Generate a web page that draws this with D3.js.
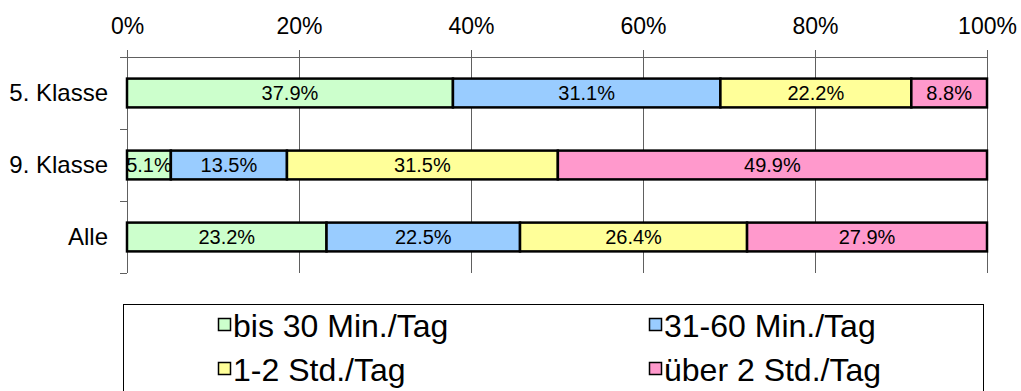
<!DOCTYPE html>
<html>
<head>
<meta charset="utf-8">
<title>Mediennutzung pro Tag</title>
<style>
body { margin: 0; background: #fff; }
text {
    font-family: "Liberation Sans", Arial, sans-serif;
    fill: #000;
}
.grid line {
    stroke: #606060;
    shape-rendering: crispEdges;
}
.axis path, .axis line {
    stroke: #606060;
    shape-rendering: crispEdges;
}
.bars rect {
    stroke: #000;
    stroke-width: 2.5;
}
</style>
</head>
<body>
<div id="chart"></div>
<script src="https://cdn.jsdelivr.net/npm/d3@7"></script>
<script>
    var categories = ["5. Klasse", "9. Klasse", "Alle"];
    var seriesNames = ["bis 30 Min./Tag", "31-60 Min./Tag", "1-2 Std./Tag", "über 2 Std./Tag"];
    var seriesColors = ["#CCFFCC", "#99CCFF", "#FFFF99", "#FF99CC"];
    // percentages per category, one list per series
    var bis30   = [37.9, 5.1, 23.2];
    var min3160 = [31.1, 13.5, 22.5];
    var std12   = [22.2, 31.5, 26.4];
    var ueber2  = [8.8, 49.9, 27.9];
    var xTicks = [0, 20, 40, 60, 80, 100];

    var dimensions = { width: 1021, height: 391 };
    var plot = { left: 127, right: 987, top: 57, bottom: 273 };

    var values = [bis30, min3160, std12, ueber2];
    var rows = categories.map(function(c, i) {
        var r = { cat: c };
        seriesNames.forEach(function(s, j) { r[s] = values[j][i]; });
        return r;
    });
    var stacked = d3.stack().keys(seriesNames)(rows);

    var x = d3.scaleLinear().domain([0, 100]).range([plot.left, plot.right]);
    var y = d3.scaleBand().domain(categories).range([plot.top, plot.bottom])
        .paddingInner(0.6).paddingOuter(0.3);
    var color = d3.scaleOrdinal().domain(seriesNames).range(seriesColors);

    var svg = d3.select("#chart").append("svg")
        .attr("width", dimensions.width)
        .attr("height", dimensions.height);

    // vertical gridlines (extend above the top axis as ticks)
    svg.append("g").attr("class", "grid")
        .selectAll("line").data(xTicks).enter().append("line")
        .attr("x1", function(d) { return Math.round(x(d)) + 0.5; })
        .attr("x2", function(d) { return Math.round(x(d)) + 0.5; })
        .attr("y1", plot.top - 7)
        .attr("y2", plot.bottom);

    // top axis
    var xaxis = d3.axisTop(x).tickValues(xTicks)
        .tickFormat(function(d) { return d + "%"; })
        .tickSize(0).tickPadding(22);
    var gx = svg.append("g").attr("class", "axis")
        .attr("transform", "translate(0," + plot.top + ")")
        .call(xaxis);
    gx.select(".domain").attr("d", "M" + (plot.left - 7) + ",0.5H" + plot.right);
    gx.selectAll("text").style("font-size", "23px").attr("dy", "0.35em").attr("y", -31);

    // left axis with ticks at the band boundaries
    var bounds = [0, 1, 2, 3].map(function(i) {
        return plot.top + i * (plot.bottom - plot.top) / categories.length;
    });
    var gy = svg.append("g").attr("class", "axis");
    gy.append("line")
        .attr("x1", plot.left + 0.5).attr("x2", plot.left + 0.5)
        .attr("y1", plot.top).attr("y2", plot.bottom);
    gy.selectAll("line.tick").data(bounds.slice(1)).enter().append("line")
        .attr("class", "tick")
        .attr("x1", plot.left - 7).attr("x2", plot.left)
        .attr("y1", function(d) { return Math.round(d) + 0.5; })
        .attr("y2", function(d) { return Math.round(d) + 0.5; });
    svg.append("g").selectAll("text").data(categories).enter().append("text")
        .attr("x", 108)
        .attr("y", function(d) { return y(d) + y.bandwidth() / 2; })
        .attr("dy", "0.35em")
        .attr("text-anchor", "end")
        .style("font-size", "24px")
        .text(function(d) { return d; });

    // stacked bars
    var gbars = svg.append("g").attr("class", "bars");
    var layers = gbars.selectAll("g").data(stacked).enter().append("g")
        .attr("fill", function(d) { return color(d.key); });
    layers.selectAll("rect").data(function(d) { return d; }).enter().append("rect")
        .attr("x", function(d) { return x(d[0]); })
        .attr("y", function(d) { return y(d.data.cat); })
        .attr("width", function(d) { return x(d[1]) - x(d[0]); })
        .attr("height", y.bandwidth());

    var glabels = svg.append("g");
    stacked.forEach(function(layer) {
        glabels.selectAll(null).data(layer).enter().append("text")
            .attr("x", function(d) { return (x(d[0]) + x(d[1])) / 2; })
            .attr("y", function(d) { return y(d.data.cat) + y.bandwidth() / 2; })
            .attr("dy", "0.35em")
            .attr("text-anchor", "middle")
            .style("font-size", "20px")
            .text(function(d) { return (d[1] - d[0]).toFixed(1) + "%"; });
    });

    // legend
    var legend = svg.append("g");
    legend.append("rect")
        .attr("x", 123.5).attr("y", 304.5)
        .attr("width", 860).attr("height", 120)
        .attr("fill", "none").attr("stroke", "#000");
    var legendPos = [[218, 326], [649, 326], [218, 370], [649, 370]];
    var items = legend.selectAll("g.item").data(seriesNames).enter().append("g")
        .attr("class", "item")
        .attr("transform", function(d, i) {
            return "translate(" + legendPos[i][0] + "," + legendPos[i][1] + ")";
        });
    items.append("rect")
        .attr("x", 0.5).attr("y", -7.5)
        .attr("width", 12).attr("height", 12)
        .attr("fill", function(d) { return color(d); })
        .attr("stroke", "#000").attr("stroke-width", 1.5);
    items.append("text")
        .attr("x", 15)
        .attr("dy", "0.35em")
        .style("font-size", "32px")
        .text(function(d) { return d; });
</script>
</body>
</html>
